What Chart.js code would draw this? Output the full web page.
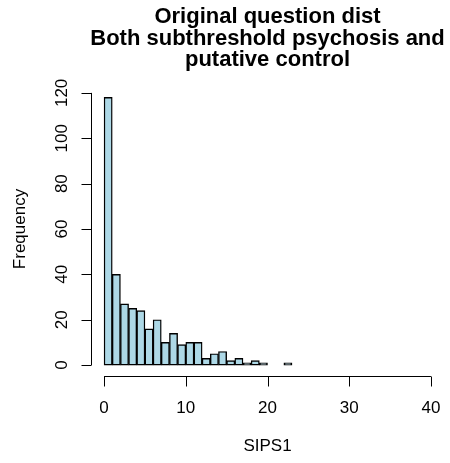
<!DOCTYPE html>
<html>
<head>
<meta charset="utf-8">
<script src="https://cdn.jsdelivr.net/npm/chart.js@4"></script>
<style>
  html, body { margin: 0; padding: 0; background: #ffffff; }
  #wrap { width: 450px; height: 463px; }
</style>
</head>
<body>
<div id="wrap"><canvas id="c" width="450" height="463"></canvas></div>
<script>
// Histogram of SIPS1 scores, bins of width 1 starting at 0
const binStarts = [0, 1, 2, 3, 4, 5, 6, 7, 8, 9, 10, 11, 12, 13, 14, 15, 16, 17, 18, 19, 20, 21, 22];
const frequencies = [118, 40, 27, 25, 24, 16, 20, 10, 14, 9, 10, 10, 3, 5, 6, 2, 3, 1, 2, 1, 0, 0, 1];
const xTicks = [0, 10, 20, 30, 40];
const yTicks = [0, 20, 40, 60, 80, 100, 120];
const titleLines = ['Original question dist', 'Both subthreshold psychosis and', 'putative control'];
const xTitle = 'SIPS1';
const yTitle = 'Frequency';

const FONT = '"Liberation Sans", Arial, Helvetica, sans-serif';

const points = binStarts.map((b, i) => ({ x: b + 0.5, y: frequencies[i] }));

// Draws base-graphics style axes, labels and title using the chart's scales
const rAxes = {
  id: 'rAxes',
  afterDraw(chart) {
    const ctx = chart.ctx;
    const xs = chart.scales.x, ys = chart.scales.y;
    const area = chart.chartArea;
    ctx.save();
    ctx.strokeStyle = '#000';
    ctx.fillStyle = '#000';
    ctx.lineWidth = 1;
    const tick = 10;

    // x axis
    const xb = Math.round(area.bottom) + 0.5;
    ctx.beginPath();
    ctx.moveTo(xs.getPixelForValue(xTicks[0]), xb);
    ctx.lineTo(xs.getPixelForValue(xTicks[xTicks.length - 1]), xb);
    xTicks.forEach(v => {
      const px = Math.round(xs.getPixelForValue(v)) + 0.5;
      ctx.moveTo(px, xb);
      ctx.lineTo(px, xb + tick);
    });
    ctx.stroke();
    ctx.font = '17px ' + FONT;
    ctx.textAlign = 'center';
    ctx.textBaseline = 'middle';
    xTicks.forEach(v => ctx.fillText(String(v), xs.getPixelForValue(v), xb + 32));
    ctx.fillText(xTitle, (area.left + area.right) / 2, xb + 70);

    // y axis
    const yl = Math.round(area.left) + 0.5;
    ctx.beginPath();
    ctx.moveTo(yl, ys.getPixelForValue(yTicks[0]));
    ctx.lineTo(yl, ys.getPixelForValue(yTicks[yTicks.length - 1]));
    yTicks.forEach(v => {
      const py = Math.round(ys.getPixelForValue(v)) + 0.5;
      ctx.moveTo(yl, py);
      ctx.lineTo(yl - tick, py);
    });
    ctx.stroke();
    yTicks.forEach(v => {
      ctx.save();
      ctx.translate(yl - 29, ys.getPixelForValue(v));
      ctx.rotate(-Math.PI / 2);
      ctx.fillText(String(v), 0, 0);
      ctx.restore();
    });
    ctx.save();
    ctx.translate(yl - 71, (area.top + area.bottom) / 2);
    ctx.rotate(-Math.PI / 2);
    ctx.fillText(yTitle, 0, 0);
    ctx.restore();

    // main title
    ctx.font = 'bold 22px ' + FONT;
    const cx = (area.left + area.right) / 2;
    titleLines.forEach((t, i) => ctx.fillText(t, cx, 17 + i * 21.5));
    ctx.restore();
  }
};

new Chart(document.getElementById('c'), {
  type: 'bar',
  data: {
    datasets: [{
      data: points,
      backgroundColor: '#ADD8E6',
      borderColor: '#000000',
      borderWidth: 1.4,
      barPercentage: 1,
      categoryPercentage: 1,
      borderSkipped: false
    }]
  },
  options: {
    responsive: false,
    animation: false,
    layout: { padding: { left: 91, right: 6, top: 82, bottom: 87 } },
    plugins: { legend: { display: false }, tooltip: { enabled: false }, title: { display: false } },
    scales: {
      x: { type: 'linear', min: -1.6, max: 41.6, display: false, offset: false },
      y: { type: 'linear', min: -4.8, max: 124.8, display: false }
    }
  },
  plugins: [rAxes]
});
</script>
</body>
</html>
